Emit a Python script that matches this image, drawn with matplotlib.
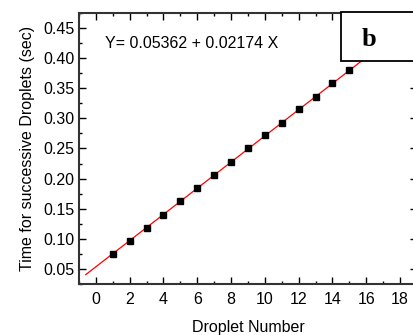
import numpy as np
import matplotlib.pyplot as plt
from matplotlib.ticker import MultipleLocator
from matplotlib.patches import Rectangle

plt.rcParams['font.family'] = ['Liberation Sans', 'DejaVu Sans']

# droplet index and time between successive droplets
droplet = [1, 2, 3, 4, 5, 6, 7, 8, 9, 10, 11, 12, 13, 14, 15]
t_sec = [0.075, 0.097, 0.118, 0.140, 0.162, 0.184, 0.206, 0.228,
         0.250, 0.272, 0.293, 0.315, 0.336, 0.358, 0.380]

# linear fit  Y = a + b X
a, b = 0.05362, 0.02174
x_fit = np.array([-0.6, 18.0])

W, H = 414, 335
fig = plt.figure(figsize=(W/100, H/100), dpi=100)
ax = fig.add_axes([79/W, 51/H, 338/W, 271/H])

ax.plot(x_fit, a + b*x_fit, color='red', lw=0.9, zorder=2)
ax.plot(droplet, t_sec, 's', color='black', ms=5, zorder=3)

ax.set_xlim(-1, 19)
ax.set_ylim(0.025, 0.475)
ax.xaxis.set_major_locator(MultipleLocator(2))
ax.xaxis.set_minor_locator(MultipleLocator(1))
ax.yaxis.set_minor_locator(MultipleLocator(0.025))
ax.set_yticks(np.arange(0.05, 0.451, 0.05))
ax.set_yticklabels(['%.2f' % v for v in np.arange(0.05, 0.451, 0.05)])

ax.tick_params(which='both', direction='in', top=True, right=True,
               labelsize=11.5, width=1)
ax.tick_params(which='major', length=5)
ax.tick_params(which='minor', length=2.5)
ax.tick_params(axis='x', pad=6)
for s in ax.spines.values():
    s.set_linewidth(1.5)
    s.set_color('#333333')

ax.set_xlabel('Droplet Number', fontsize=11.5, labelpad=9)
ax.set_ylabel('Time for successive Droplets (sec)', fontsize=11.5, labelpad=6)

fig.text(105/W, 1 - 43/H, 'Y= 0.05362 + 0.02174 X', fontsize=11.5,
         va='center', ha='left')

# panel label box
fig.patches.append(Rectangle((341/W, 1 - 61/H), 100/W, 49/H,
                             transform=fig.transFigure, fc='white',
                             ec='black', lw=1.3, zorder=5))
fig.text(369/W, 1 - 39/H, 'b', fontsize=19, fontweight='bold',
         family='Liberation Serif', ha='center', va='center', zorder=6)

fig.savefig('out.png', dpi=100)
